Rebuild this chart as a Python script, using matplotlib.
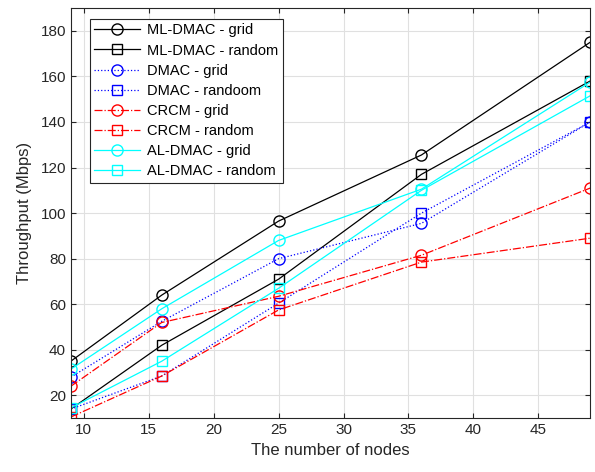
import matplotlib.pyplot as plt

plt.rcParams['font.family'] = ['Liberation Sans', 'DejaVu Sans']

nodes = [9, 16, 25, 36, 49]

ml_grid = [35, 64, 96.5, 125.5, 175]
ml_random = [14, 42, 71, 117, 158]
dmac_grid = [28, 52.5, 80, 95.5, 140]
dmac_random = [14, 28.5, 60.5, 100, 140]
crcm_grid = [24, 52, 63.5, 81.5, 111]
crcm_random = [10.5, 28.5, 57.5, 78.5, 89]
al_grid = [31.5, 58, 88, 110.5, 157.5]
al_random = [14.5, 35, 67, 110, 151.5]

fig = plt.figure(figsize=(5.95, 4.72), dpi=100)
ax = fig.add_axes([0.119, 0.114, 0.873, 0.869])

ax.plot(nodes, ml_grid, color='black', ls='-', marker='o', ms=8, mfc='none', lw=0.9, label='ML-DMAC - grid')
ax.plot(nodes, ml_random, color='black', ls='-', marker='s', ms=6.5, mfc='none', lw=0.9, label='ML-DMAC - random')
ax.plot(nodes, dmac_grid, color='blue', ls=':', marker='o', ms=8, mfc='none', lw=0.9, label='DMAC - grid')
ax.plot(nodes, dmac_random, color='blue', ls=':', marker='s', ms=6.5, mfc='none', lw=0.9, label='DMAC - randoom')
ax.plot(nodes, crcm_grid, color='red', ls='-.', marker='o', ms=8, mfc='none', lw=0.9, label='CRCM - grid')
ax.plot(nodes, crcm_random, color='red', ls='-.', marker='s', ms=6.5, mfc='none', lw=0.9, label='CRCM - random')
ax.plot(nodes, al_grid, color='cyan', ls='-', marker='o', ms=8, mfc='none', lw=0.9, label='AL-DMAC - grid')
ax.plot(nodes, al_random, color='cyan', ls='-', marker='s', ms=6.5, mfc='none', lw=0.9, label='AL-DMAC - random')

ax.set_xlim(9, 49)
ax.set_ylim(10, 190)
ax.set_xticks([10, 15, 20, 25, 30, 35, 40, 45])
ax.set_yticks(range(20, 181, 20))
ax.grid(True, color='#e0e0e0', lw=0.8)
ax.set_axisbelow(True)
ax.tick_params(direction='in', top=True, right=True, labelsize=11, colors='#262626')
for s in ax.spines.values():
    s.set_color('#262626')
    s.set_linewidth(0.8)

ax.set_xlabel('The number of nodes', fontsize=12, color='#262626')
ax.set_ylabel('Throughput (Mbps)', fontsize=12, color='#262626', labelpad=6)

leg = ax.legend(loc='upper left', bbox_to_anchor=(0.037, 0.973), fontsize=10.5,
                fancybox=False, edgecolor='#262626', framealpha=1, borderaxespad=0,
                handlelength=3.1, handletextpad=0.5, labelspacing=0.42, borderpad=0.3)
leg.get_frame().set_linewidth(0.8)

fig.savefig('out.png', dpi=100)
